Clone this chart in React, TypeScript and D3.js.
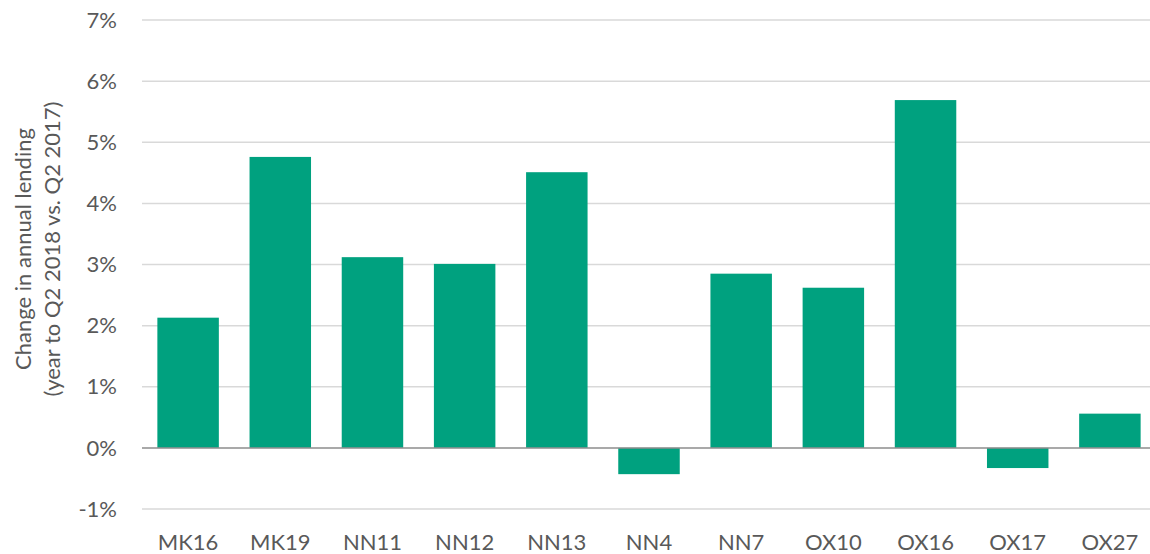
import React from 'react';
import * as d3 from 'd3';

const categories = ['MK16', 'MK19', 'NN11', 'NN12', 'NN13', 'NN4', 'NN7', 'OX10', 'OX16', 'OX17', 'OX27'];
const changes = [2.13, 4.76, 3.12, 3.01, 4.51, -0.43, 2.85, 2.62, 5.69, -0.33, 0.56];
const yTicks = [-1, 0, 1, 2, 3, 4, 5, 6, 7];

const width = 1150;
const height = 554;
const margin = { top: 20, right: -6, bottom: 45, left: 142 };
const font = 'Lato, "Liberation Sans", sans-serif';
const textColor = '#595959';

const App: React.FC = () => {
  const x = d3.scaleBand<string>()
    .domain(categories)
    .range([margin.left, width - margin.right])
    .paddingInner(0.333)
    .paddingOuter(0.1667);

  const y = d3.scaleLinear()
    .domain([-1, 7])
    .range([height - margin.bottom, margin.top]);

  return (
    <svg width={width} height={height} style={{ position: 'absolute', left: 0, top: 0, fontFamily: font }}>
      {/* gridlines */}
      {yTicks.filter(t => t !== 0).map(t => (
        <line key={t} x1={margin.left} x2={width} y1={y(t)} y2={y(t)} stroke="#d9d9d9" strokeWidth={1.5} />
      ))}
      {/* bars */}
      {categories.map((c, i) => {
        const v = changes[i];
        return (
          <rect
            key={c}
            x={x(c)}
            width={x.bandwidth()}
            y={Math.min(y(v), y(0))}
            height={Math.abs(y(v) - y(0))}
            fill="#00a17f"
          />
        );
      })}
      {/* zero line */}
      <line x1={margin.left} x2={width} y1={y(0)} y2={y(0)} stroke="#8c8c8c" strokeWidth={1.5} />
      {/* y tick labels */}
      {yTicks.map(t => (
        <text key={t} x={117} y={y(t)} dy="0.35em" textAnchor="end" fontSize={22} fill={textColor}>
          {`${t}%`}
        </text>
      ))}
      {/* x labels */}
      {categories.map(c => (
        <text key={c} x={(x(c) ?? 0) + x.bandwidth() / 2} y={550} textAnchor="middle" fontSize={22} fill={textColor}>
          {c}
        </text>
      ))}
      {/* y axis title */}
      <g transform="translate(38, 249) rotate(-90)" fill={textColor} fontSize={22}>
        <text x={0} y={-15} dy="0.35em" textAnchor="middle">Change in annual lending</text>
        <text x={0} y={14} dy="0.35em" textAnchor="middle">(year to Q2 2018 vs. Q2 2017)</text>
      </g>
    </svg>
  );
};

export default App;
